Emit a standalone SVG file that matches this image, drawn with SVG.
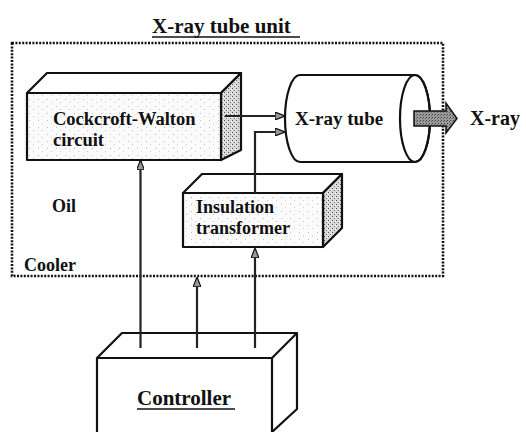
<svg xmlns="http://www.w3.org/2000/svg" width="526" height="432" viewBox="0 0 526 432">
<defs>
<style>
.t{font-family:"Liberation Serif","Times New Roman",serif;font-weight:bold;fill:#111}
.edge{fill:none;stroke:#111;stroke-width:2.2;stroke-linejoin:round}
.conn{fill:none;stroke:#222;stroke-width:2.2}
.box{stroke:#111;stroke-width:2.2;stroke-linejoin:round}
.dot{fill:none;stroke:#111;stroke-width:2.6;stroke-dasharray:2 1.4}
</style>
<pattern id="dense" width="4" height="4" patternUnits="userSpaceOnUse">
<rect width="4" height="4" fill="#d8d8d8"/>
<rect x="0" y="0" width="1" height="1" fill="#555"/>
<rect x="2" y="2" width="1" height="1" fill="#777"/>
<rect x="3" y="1" width="1" height="1" fill="#fff"/>
</pattern>
<pattern id="light" width="9" height="7" patternUnits="userSpaceOnUse">
<rect width="9" height="7" fill="#fbfbfb"/>
<rect x="2" y="1" width="1" height="1" fill="#bbb"/>
<rect x="6" y="4" width="1" height="1" fill="#ccc"/>
</pattern>
<pattern id="hatch" width="3" height="3" patternUnits="userSpaceOnUse">
<rect width="3" height="3" fill="#9a9a9a"/>
<rect x="0" y="0" width="1" height="1" fill="#444"/>
<rect x="2" y="1" width="1" height="1" fill="#666"/>
</pattern>
<marker id="ah" viewBox="0 0 10 8" refX="9" refY="4" markerWidth="4.5" markerHeight="3.6" orient="auto" markerUnits="strokeWidth">
<path d="M0,0 L10,4 L0,8 Z" fill="#999" stroke="#111" stroke-width="1.2"/>
</marker>
</defs>
<rect width="526" height="432" fill="#fff"/>

<g id="title">
<text class="t" x="152" y="33" font-size="21" font-family="Liberation Serif, serif">X-ray tube unit</text>
<line x1="152" y1="37" x2="300" y2="37" stroke="#111" stroke-width="1.5"/>
</g>

<g id="unit-boundary">
<rect class="dot" x="12" y="43" width="431" height="233"/>
<text class="t" x="24" y="271" font-size="18" font-family="Liberation Serif, serif">Cooler</text>
<text class="t" x="52" y="212" font-size="18" font-family="Liberation Serif, serif">Oil</text>
</g>

<g id="cockcroft-walton">
<polygon class="box" points="27,93 47,73 241,73 221,93" fill="#fff"/>
<polygon class="box" points="221,93 241,73 241,150 221,160" fill="url(#dense)"/>
<rect class="box" x="27" y="93" width="194" height="67" fill="url(#light)"/>
<text class="t" x="53" y="125" font-size="18.5" font-family="Liberation Serif, serif">Cockcroft-Walton</text>
<text class="t" x="53" y="146" font-size="18.5" font-family="Liberation Serif, serif">circuit</text>
</g>

<g id="xray-tube">
<path class="edge" d="M300,75 L415,75 A15,43.5 0 0 1 415,162 L300,162 A15,43.5 0 0 1 300,75 Z" fill="#fff"/>
<ellipse class="edge" cx="415" cy="118.5" rx="15" ry="43.5" fill="#fff"/>
<text class="t" x="295" y="125" font-size="19" font-family="Liberation Serif, serif">X-ray tube</text>
</g>

<g id="insulation-transformer">
<polygon class="box" points="183,193 202,174 342,174 323,193" fill="#fff"/>
<polygon class="box" points="323,193 342,174 342,228 323,247" fill="url(#dense)"/>
<rect class="box" x="183" y="193" width="140" height="54" fill="url(#light)"/>
<text class="t" x="196" y="213" font-size="18" font-family="Liberation Serif, serif">Insulation</text>
<text class="t" x="196" y="234" font-size="18" font-family="Liberation Serif, serif">transformer</text>
</g>

<g id="controller">
<path class="edge" d="M97,432 L97,358 L122,333 L297,333 L297,409 L272,432" fill="#fff"/>
<path class="edge" d="M97,358 L272,358 L297,333 M272,358 L272,432"/>
<text class="t" x="137" y="405" font-size="21" font-family="Liberation Serif, serif">Controller</text>
<line x1="137" y1="409" x2="235" y2="409" stroke="#111" stroke-width="1.5"/>
</g>

<g id="xray-out">
<path d="M414,111 L446,111 L446,103 L457,118.5 L446,133 L446,126 L414,126 Z" fill="url(#hatch)" stroke="#111" stroke-width="1.5"/>
<text class="t" x="470" y="125" font-size="20" font-family="Liberation Serif, serif">X-ray</text>
</g>

<g id="connectors">
<line class="conn" x1="225" y1="116" x2="284" y2="116" marker-end="url(#ah)"/>
<polyline class="conn" points="255,193 255,132 284,132" marker-end="url(#ah)"/>
<line class="conn" x1="140.5" y1="348" x2="140.5" y2="161" marker-end="url(#ah)"/>
<line class="conn" x1="197" y1="348" x2="197" y2="278" marker-end="url(#ah)"/>
<line class="conn" x1="255" y1="348" x2="255" y2="249" marker-end="url(#ah)"/>
</g>
</svg>
